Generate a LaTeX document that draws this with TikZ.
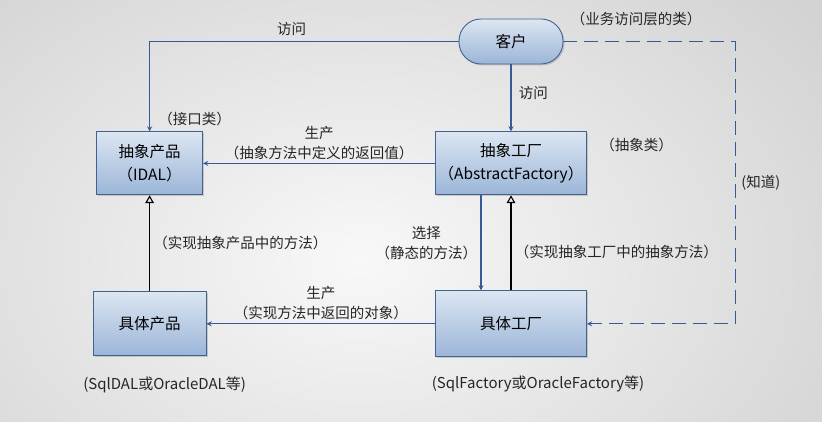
\documentclass[tikz,border=0pt]{standalone}
\usepackage{fontspec}
\setmainfont{Noto Sans CJK SC}
\usepackage{tikz}
\usetikzlibrary{arrows, positioning, shadows}
\definecolor{boxtop}{HTML}{DCE6F2}
\definecolor{boxbottom}{HTML}{9BB5D8}
\definecolor{boxline}{HTML}{42638F}
\definecolor{linkblue}{HTML}{355A96}
\definecolor{bgouter}{HTML}{BCBCBC}
\definecolor{bginner}{HTML}{F8F8F8}

\begin{document}
\begin{tikzpicture}[
    x=1pt, y=-1pt,
    cls/.style={rectangle, draw=boxline, line width=0.9pt, top color=boxtop, bottom color=boxbottom,
                align=center, minimum height=63pt, inner xsep=2pt, font=\fontsize{15.5}{23}\selectfont,
                drop shadow={shadow xshift=1.5pt, shadow yshift=-1.5pt, opacity=0.35}},
    client/.style={cls, rounded corners=22pt, minimum height=45pt, minimum width=104pt},
    note/.style={font=\fontsize{14.5}{20}\selectfont, align=center, text=black!85},
    arrow/.style={->, >=stealth, draw=linkblue, line width=1.3pt},
    realize/.style={-open triangle 60, draw=black, line width=1.1pt},
    dasharrow/.style={arrow, dash pattern=on 14pt off 7pt}
  ]
  % background
  \useasboundingbox (0,0) rectangle (822,422);
  \begin{scope}
    \clip (0,0) rectangle (822,422);
    \shade [inner color=bginner, outer color=bgouter] (-560,-380) rectangle (1280,900);
  \end{scope}

  \node (client) [client] at (511,41.5) {客户};
  \node (AF) [cls, minimum width=151pt, below=67pt of client] {抽象工厂\\（AbstractFactory）};
  \node (AP) [cls, minimum width=106pt, left=232pt of AF]     {抽象产品\\（IDAL）};
  \node (CP) [cls, minimum width=113pt, minimum height=64pt, below=96pt of AP] {具体产品};
  \node (CF) [cls, minimum width=151pt, minimum height=66pt, below=95pt of AF] {具体工厂};

  % notes
  \node (layerNote) [note, right=4pt of client.north east] {（业务访问层的类）};
  \node (ifaceNote) [note, above=2pt of AP.north, xshift=45pt] {（接口类）};
  \node (absNote)   [note, below right=3pt and 10pt of AF.north east] {（抽象类）};
  \node (dalNote)   [note, font=\fontsize{15}{18}\selectfont, below=17pt of CP, xshift=15pt] {(SqlDAL或OracleDAL等)};
  \node (factNote)  [note, font=\fontsize{15}{18}\selectfont, below=15pt of CF, xshift=27pt] {(SqlFactory或OracleFactory等)};

  \draw [arrow] (client.west) -| node[pos=0.27, above=2pt, note] {访问} (AP.north);
  \draw [arrow] (client) -- node[pos=0.42, right=4pt, note] {访问} (AF);
  \draw [arrow] (AF) -- node[above, note] {生产\\（抽象方法中定义的返回值）} (AP);
  \draw [realize] (CP) -- node[right=0pt, note] {（实现抽象产品中的方法）} (AP);
  \draw [arrow] ([xshift=-30pt]AF.south) -- node[left=0pt, note] {选择\\（静态的方法）} ([xshift=-30pt]CF.north);
  \draw [realize] (CF) -- node[right=0pt, pos=0.4, note] {（实现抽象工厂中的抽象方法）} (AF);
  \draw [arrow] (CF) -- node[above, note] {生产\\（实现方法中返回的对象）} (CP);
  \draw [dasharrow] (client.east) -- ++(172pt,0) |- node[pos=0.25, right=2pt, note] {(知道)} (CF.east);
\end{tikzpicture}
\end{document}
